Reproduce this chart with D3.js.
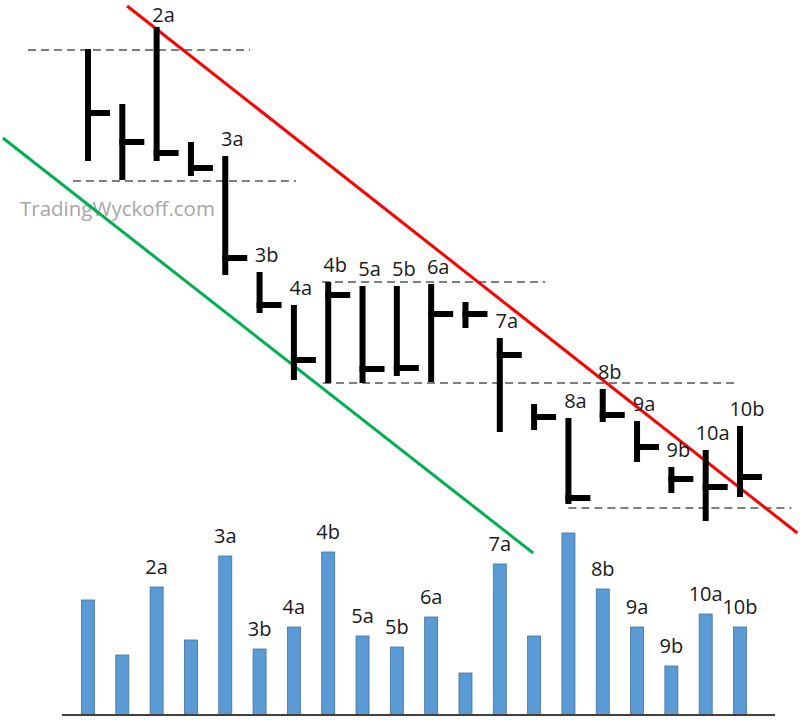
<!DOCTYPE html>
<html>
<head>
<meta charset="utf-8">
<script src="https://cdn.jsdelivr.net/npm/d3@7"></script>
<style>
  body { margin: 0; background: #fff; }
  svg { display: block; }
  .lbl { font-family: "Open Sans", "Noto Sans", sans-serif; font-size: 20px; fill: #1a1a1a; }
</style>
</head>
<body>
<div id="chart"></div>
<script>
"use strict"

// bar labels ("" = unlabelled bar)
const labels = ["", "", "2a", "", "3a", "3b", "4a", "4b", "5a", "5b",
                "6a", "", "7a", "", "8a", "8b", "9a", "9b", "10a", "10b"];

// price bars: high / low / close
const highs  = [49.1, 43.6, 51.3, 39.8, 38.4, 26.8, 23.5, 25.8, 25.4, 25.4,
                25.6, 23.8, 20.2, 13.6, 12.2, 15.1, 11.9, 7.3, 9.0, 11.4];
const lows   = [37.9, 36.0, 37.9, 36.4, 26.5, 22.7, 16.0, 15.7, 15.7, 16.4,
                15.8, 21.2, 10.8, 11.0, 3.6, 11.8, 7.8, 4.7, 1.9, 4.3];
const closes = [42.7, 39.8, 38.7, 37.2, 28.2, 23.5, 18.0, 24.5, 17.1, 17.2,
                22.6, 22.6, 18.5, 12.3, 4.2, 12.5, 9.3, 6.1, 5.3, 6.3];

// volume per bar
const volumes = [115, 60, 128, 75, 159, 66, 88, 163, 79, 68,
                 98, 42, 151, 79, 182, 126, 88, 49, 101, 88];

// which bars carry a label in the volume panel
const volumeLabels = ["", "", "2a", "", "3a", "3b", "4a", "4b", "5a", "5b",
                      "6a", "", "7a", "", "", "8b", "9a", "9b", "10a", "10b"];

// horizontal support / resistance levels: [price, from bar, to bar]
const levels = [[49.0, -1.75, 4.72], [35.9, -0.44, 6.06], [25.8, 6.82, 13.32],
                [15.7, 6.85, 18.86], [3.2, 14.0, 20.5]];

// trend channel: [bar, price] pairs
const supplyLine = [[1.14, 53.4], [20.67, 0.7]];
const demandLine = [[-2.48, 40.2], [12.97, -1.3]];

const width = 800, height = 720;

const svg = d3.select("#chart").append("svg")
    .attr("width", width)
    .attr("height", height);

// scales
const x = d3.scaleLinear().domain([0, 19]).range([88, 740]);
const yPrice = d3.scaleLinear().domain([0, 52]).range([540, 20]);
const yVol = d3.scaleLinear().domain([0, 200]).range([715, 515]);

// watermark
svg.append("text")
    .attr("x", 20)
    .attr("y", 216)
    .style("font-family", "'Open Sans', 'Noto Sans', sans-serif")
    .style("font-size", "20.5px")
    .style("fill", "#a6a6a6")
    .text("TradingWyckoff.com");

// dashed levels
svg.append("g").selectAll("line")
    .data(levels)
    .enter().append("line")
        .attr("x1", d => x(d[1]))
        .attr("x2", d => x(d[2]))
        .attr("y1", d => yPrice(d[0]))
        .attr("y2", d => yPrice(d[0]))
        .attr("stroke", "#555")
        .attr("stroke-width", 1.4)
        .attr("stroke-dasharray", "8,5");

// trend lines
const trend = d3.line().x(d => x(d[0])).y(d => yPrice(d[1]));
svg.append("path")
    .attr("d", trend(demandLine))
    .attr("fill", "none")
    .attr("stroke", "#00b050")
    .attr("stroke-width", 3);
svg.append("path")
    .attr("d", trend(supplyLine))
    .attr("fill", "none")
    .attr("stroke", "#ff0000")
    .attr("stroke-width", 3);

// price bars
const bars = svg.append("g").selectAll("g")
    .data(highs.map((h, i) => ({i: i, high: h, low: lows[i], close: closes[i], label: labels[i]})))
    .enter().append("g");

bars.append("line")
    .attr("x1", d => x(d.i))
    .attr("x2", d => x(d.i))
    .attr("y1", d => yPrice(d.high))
    .attr("y2", d => yPrice(d.low))
    .attr("stroke", "#000")
    .attr("stroke-width", 6);

bars.append("line")
    .attr("x1", d => x(d.i) - 3)
    .attr("x2", d => x(d.i) + 22)
    .attr("y1", d => yPrice(d.close))
    .attr("y2", d => yPrice(d.close))
    .attr("stroke", "#000")
    .attr("stroke-width", 6);

// keep the top label inside the frame
bars.filter(d => d.label)
    .append("text")
        .attr("class", "lbl")
        .attr("x", d => x(d.i) + 7)
        .attr("y", d => Math.max(yPrice(d.high) - 10, 22))
        .attr("text-anchor", "middle")
        .text(d => d.label);

// volume panel
const vol = svg.append("g");
vol.selectAll("rect")
    .data(volumes)
    .enter().append("rect")
        .attr("x", (d, i) => x(i) - 6.5)
        .attr("y", d => yVol(d))
        .attr("width", 13)
        .attr("height", d => yVol(0) - yVol(d))
        .attr("fill", "#5b9bd5")
        .attr("stroke", "#41719c")
        .attr("stroke-width", 0.8);

vol.selectAll("text")
    .data(volumes)
    .enter().append("text")
        .attr("class", "lbl")
        .attr("x", (d, i) => x(i))
        .attr("y", d => yVol(d) - 13)
        .attr("text-anchor", "middle")
        .text((d, i) => volumeLabels[i]);

vol.append("line")
    .attr("x1", 62)
    .attr("x2", 775)
    .attr("y1", yVol(0))
    .attr("y2", yVol(0))
    .attr("stroke", "#404040")
    .attr("stroke-width", 2);
</script>
</body>
</html>
